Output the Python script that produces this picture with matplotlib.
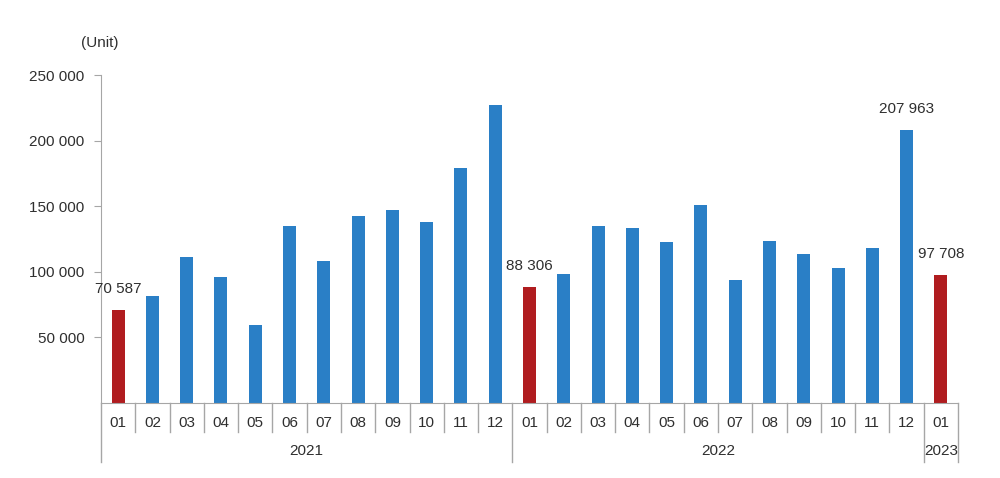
import matplotlib
matplotlib.use('Agg')
import matplotlib.pyplot as plt
import matplotlib.transforms as mtransforms
import numpy as np

plt.rcParams['font.family'] = ['Liberation Sans', 'DejaVu Sans']

# data
months = ['01', '02', '03', '04', '05', '06', '07', '08', '09', '10', '11', '12',
          '01', '02', '03', '04', '05', '06', '07', '08', '09', '10', '11', '12',
          '01']
years = ['2021', '2022', '2023']
year_counts = [12, 12, 1]
values = [70587, 81600, 111300, 96000, 59500, 135000, 108200, 142500, 147000, 138000, 179500, 227000,
          88306, 98300, 135000, 133400, 122700, 151000, 93800, 123500, 113500, 103000, 118000, 207963,
          97708]
labelled = [0, 12, 23, 24]
red_bars = [0, 12, 24]

blue = '#2a7fc6'
red = '#b01c1f'
grey = '#a6a6a6'
text_col = '#2f2f2f'

fig = plt.figure(figsize=(10, 4.78), dpi=100)
ax = fig.add_axes([0.101, 0.157, 0.857, 0.686])

x = np.arange(len(values))
colors = [red if i in red_bars else blue for i in x]
ax.bar(x, values, width=0.38, color=colors, zorder=2)

for i in labelled:
    lab = f'{values[i]:,}'.replace(',', ' ')
    ax.annotate(lab, (x[i], values[i]), xytext=(0, 10), textcoords='offset points',
                ha='center', va='bottom', fontsize=11, color=text_col)

ax.set_xlim(-0.5, len(values) - 0.5)
ax.set_ylim(0, 250000)
ax.set_yticks([50000, 100000, 150000, 200000, 250000])
ax.set_yticklabels([f'{v:,}'.replace(',', ' ') for v in ax.get_yticks()],
                   fontsize=11, color=text_col)
ax.tick_params(axis='y', length=5, color=grey, pad=7)
ax.set_xticks([])

for s in ['top', 'right']:
    ax.spines[s].set_visible(False)
ax.spines['left'].set_color(grey)
ax.spines['bottom'].set_color(grey)

# two-level category axis
trans = mtransforms.blended_transform_factory(ax.transData, ax.transAxes)
for i, m in enumerate(months):
    ax.text(i, -0.061, m, transform=trans, ha='center', va='center',
            fontsize=11, color=text_col)

year_edges = np.cumsum([0] + year_counts) - 0.5
for b in np.arange(len(values) + 1) - 0.5:
    bottom = -0.18 if b in year_edges else -0.088
    ax.plot([b, b], [0, bottom], transform=trans, color=grey, lw=1, clip_on=False)

for k, yr in enumerate(years):
    mid = (year_edges[k] + year_edges[k + 1]) / 2
    ax.text(mid, -0.147, yr, transform=trans, ha='center', va='center',
            fontsize=11, color=text_col)

fig.text(0.100, 0.910, '(Unit)', ha='center', va='center', fontsize=11, color=text_col)

plt.savefig('out.png', dpi=100)
